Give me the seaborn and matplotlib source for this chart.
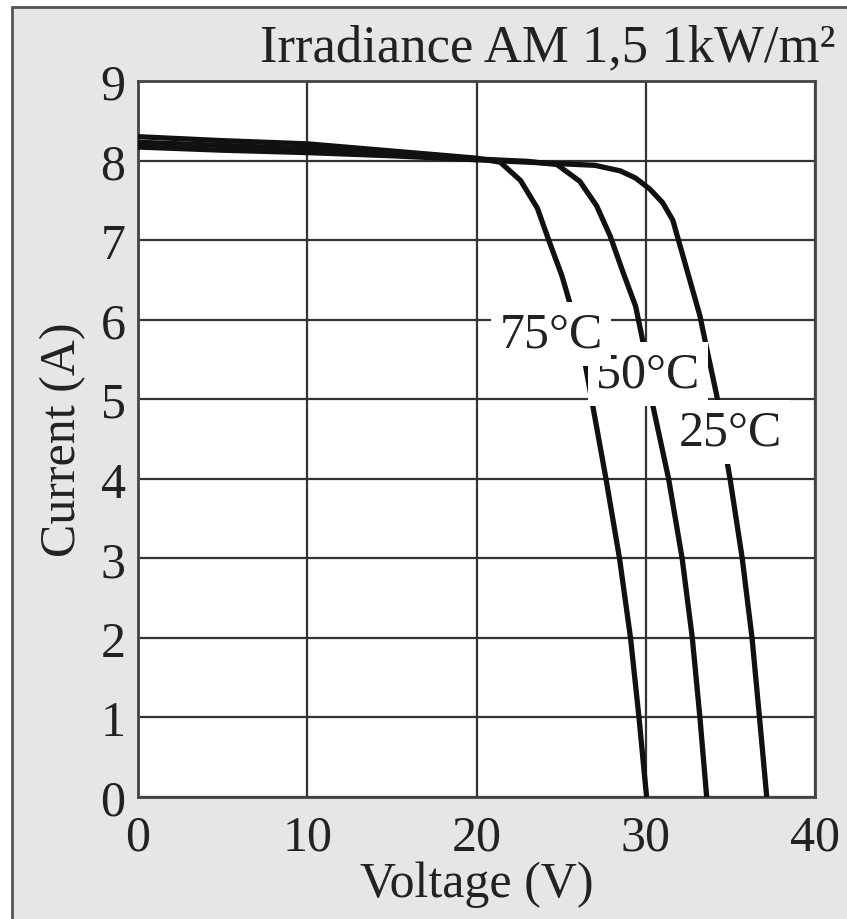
import matplotlib
matplotlib.use("Agg")
import matplotlib.pyplot as plt
import seaborn as sns
import pandas as pd
from matplotlib.patches import Rectangle

# ---- data ----
v_25 = [0, 5, 10, 15, 20, 24, 27, 28.5, 29.4, 30.25, 31.0, 31.6, 32.0, 32.6, 33.2, 33.6,
        34.2, 34.8, 34.98, 35.7, 36.28, 36.72, 37.15]
i_25 = [8.17, 8.13, 8.10, 8.06, 8.01, 7.97, 7.94, 7.87, 7.78, 7.64, 7.47, 7.25, 6.95, 6.5, 6.05, 5.64,
        5.04, 4.22, 4.0, 3.0, 2.0, 1.0, 0.0]

v_50 = [0, 5, 10, 15, 20, 23, 24.75, 26.1, 27.1, 27.9, 28.65, 29.4, 29.8, 30.43, 31.35, 32.15, 32.75, 33.2, 33.6]
i_50 = [8.23, 8.19, 8.15, 8.09, 8.02, 7.99, 7.95, 7.74, 7.43, 7.05, 6.6, 6.17, 5.76, 4.91, 4.0, 3.0, 2.0, 1.0, 0.0]

v_75 = [0, 5, 10, 15, 20, 21.4, 22.6, 23.6, 24.3, 25.05, 25.5, 26.4, 27.65, 28.45, 29.1, 29.6, 30.05]
i_75 = [8.30, 8.25, 8.21, 8.12, 8.03, 7.98, 7.75, 7.4, 6.98, 6.55, 6.22, 5.47, 4.0, 3.0, 2.0, 1.0, 0.0]

temps = ["25°C", "50°C", "75°C"]
label_v = [34.98, 30.13, 24.4]
label_i = [4.59, 5.32, 5.82]

x_ticks = [0, 10, 20, 30, 40]
y_ticks = [0, 1, 2, 3, 4, 5, 6, 7, 8, 9]
title_text = "Irradiance AM 1,5 1kW/m²"
x_label = "Voltage (V)"
y_label = "Current (A)"

df = pd.concat([
    pd.DataFrame({"V": v_25, "I": i_25, "T": temps[0]}),
    pd.DataFrame({"V": v_50, "I": i_50, "T": temps[1]}),
    pd.DataFrame({"V": v_75, "I": i_75, "T": temps[2]}),
], ignore_index=True)

sns.set_theme(style="white")
plt.rcParams["font.family"] = ["Liberation Serif", "DejaVu Serif"]

W, H = 847, 920
fig = plt.figure(figsize=(W / 100, H / 100), dpi=100)
fig.patch.set_facecolor("white")
bg = Rectangle((12 / W, -0.01), 1.0, 1 - 8 / H + 0.01, transform=fig.transFigure,
               facecolor="#e6e6e8", edgecolor="#555555", linewidth=2, zorder=-10)
fig.patches.append(bg)

ax = fig.add_axes([138 / W, 1 - 798 / H, (815 - 138) / W, (798 - 82) / H])
ax.set_zorder(1)
ax.set_facecolor("white")

sns.lineplot(data=df, x="V", y="I", hue="T", palette=["#111111"] * 3,
             linewidth=3.8, legend=False, ax=ax, estimator=None, sort=False, zorder=3)
for ln in ax.lines:
    ln.set_solid_joinstyle("round")
    ln.set_solid_capstyle("butt")

ax.set_xlim(0, 40)
ax.set_ylim(0, 9)
ax.set_xticks(x_ticks)
ax.set_yticks(y_ticks)
ax.grid(True, color="#333333", linewidth=1.6, zorder=1)
ax.set_axisbelow(True)
for s in ax.spines.values():
    s.set_color("#444444")
    s.set_linewidth(2)
ax.tick_params(axis="both", length=0, labelsize=36, colors="#222222")
ax.tick_params(axis="y", pad=9)
ax.tick_params(axis="x", pad=12)

ax.set_xlabel(x_label, fontsize=36, color="#222222", labelpad=0)
ax.set_ylabel(y_label, fontsize=36, color="#222222", labelpad=10)

for t, lv, li in zip(temps, label_v, label_i):
    ax.text(lv, li, t, fontsize=36, color="#222222", ha="center", va="center", zorder=5,
            bbox=dict(facecolor="white", edgecolor="none", pad=6))

fig.text(835 / W, 1 - 48 / H, title_text, fontsize=38, color="#222222",
         ha="right", va="center")

fig.savefig("out.png", dpi=100)
